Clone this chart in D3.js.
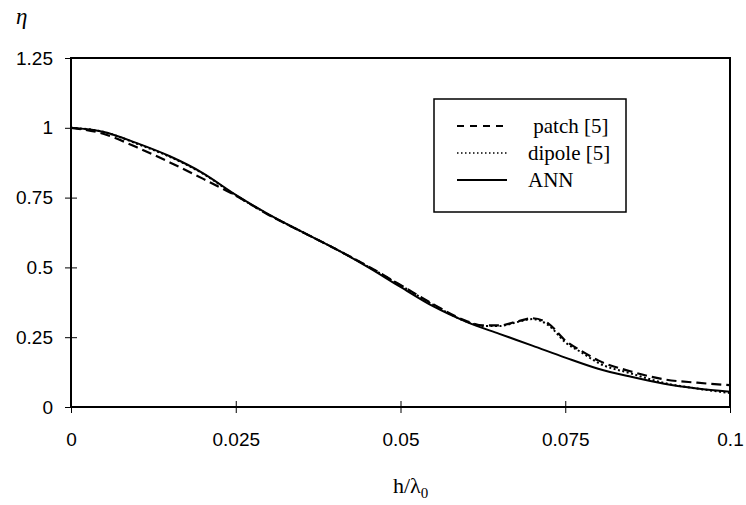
<!DOCTYPE html>
<html>
<head>
<meta charset="utf-8">
<script src="https://cdn.jsdelivr.net/npm/d3@7"></script>
<style>
  body { margin: 0; background: #fff; }
  text { fill: #000; }
  .sans { font-family: "Liberation Sans", Arial, sans-serif; }
  .serif { font-family: "Liberation Serif", "Times New Roman", serif; }
</style>
</head>
<body>
<svg id="chart"></svg>
<script>
// values
const xTicks = [0, 0.025, 0.05, 0.075, 0.1];
const yTicks = [0, 0.25, 0.5, 0.75, 1, 1.25];

const annX = [0, 0.005, 0.01, 0.015, 0.02, 0.025, 0.03, 0.035, 0.04, 0.045, 0.05,
  0.055, 0.06, 0.065, 0.07, 0.075, 0.08, 0.085, 0.09, 0.095, 0.1];
const annY = [1.0, 0.985, 0.945, 0.898, 0.838, 0.76, 0.69, 0.628, 0.568, 0.502, 0.43,
  0.36, 0.305, 0.262, 0.22, 0.177, 0.137, 0.108, 0.083, 0.066, 0.055];

const patchX = [0, 0.005, 0.01, 0.015, 0.02, 0.025, 0.03, 0.035, 0.04, 0.045, 0.05,
  0.055, 0.06, 0.0625, 0.065, 0.0675, 0.07, 0.0725, 0.075, 0.0775, 0.08, 0.085, 0.09, 0.095, 0.1];
const patchY = [1.0, 0.978, 0.93, 0.876, 0.818, 0.757, 0.688, 0.628, 0.568, 0.505, 0.437,
  0.368, 0.308, 0.292, 0.292, 0.305, 0.318, 0.298, 0.238, 0.2, 0.167, 0.127, 0.099, 0.087, 0.078];

const dipoleX = [0, 0.005, 0.01, 0.015, 0.02, 0.025, 0.03, 0.035, 0.04, 0.045, 0.05,
  0.055, 0.06, 0.0625, 0.065, 0.0675, 0.07, 0.0725, 0.075, 0.0775, 0.08, 0.085, 0.09, 0.095, 0.1];
const dipoleY = [1.0, 0.985, 0.943, 0.896, 0.836, 0.758, 0.689, 0.628, 0.568, 0.504, 0.436,
  0.366, 0.306, 0.29, 0.29, 0.303, 0.315, 0.292, 0.232, 0.195, 0.158, 0.12, 0.086, 0.066, 0.05];

const legendLabels = [" patch [5]", "dipole [5]", "ANN"];

const margin = { top: 58, right: 16, bottom: 98, left: 71 },
  width = 746 - margin.left - margin.right,
  height = 505 - margin.top - margin.bottom;

const root = d3.select("#chart").attr("width", 746).attr("height", 505);

const svg = root.append("g")
  .attr("transform", `translate(${margin.left},${margin.top})`);

const x = d3.scaleLinear().domain([0, 0.1]).range([0, width]);
const y = d3.scaleLinear().domain([0, 1.25]).range([height, 0]);

// frame
svg.append("rect")
  .attr("x", 0).attr("y", 0)
  .attr("width", width).attr("height", height)
  .attr("fill", "none").attr("stroke", "#000").attr("stroke-width", 2);

// axes (ticks cross the axis line)
const xAxis = svg.append("g")
  .attr("transform", `translate(0,${height})`)
  .call(d3.axisBottom(x).tickValues(xTicks).tickFormat((d) => d3.format("")(d)).tickSize(6).tickPadding(20));
xAxis.attr("font-family", null).attr("font-size", null);
xAxis.select(".domain").remove();
xAxis.selectAll(".tick line").attr("y1", -6).attr("stroke-width", 1);
xAxis.selectAll("text")
  .attr("class", "sans")
  .style("font-size", "19px")
  .attr("fill", "#000");

const yAxis = svg.append("g")
  .call(d3.axisLeft(y).tickValues(yTicks).tickFormat((d) => d3.format("")(d)).tickSize(6).tickPadding(12));
yAxis.attr("font-family", null).attr("font-size", null);
yAxis.select(".domain").remove();
yAxis.selectAll(".tick line").attr("x1", 6).attr("stroke-width", 1);
yAxis.selectAll("text")
  .attr("class", "sans")
  .style("font-size", "19px")
  .attr("fill", "#000");

// curves
const line = d3.line()
  .x((d) => x(d[0]))
  .y((d) => y(d[1]))
  .curve(d3.curveMonotoneX);

const series = [
  { xs: dipoleX, ys: dipoleY, dash: "2,2.5", w: 2 },
  { xs: patchX, ys: patchY, dash: "10,5", w: 2.2 },
  { xs: annX, ys: annY, dash: null, w: 2 },
];

series.forEach((s) => {
  svg.append("path")
    .datum(s.xs.map((v, i) => [v, s.ys[i]]))
    .attr("d", line)
    .attr("fill", "none")
    .attr("stroke", "#000")
    .attr("stroke-width", s.w)
    .attr("stroke-dasharray", s.dash);
});

// legend
const legend = root.append("g").attr("transform", "translate(434,99)");
legend.append("rect")
  .attr("width", 192).attr("height", 113)
  .attr("fill", "#fff").attr("stroke", "#000").attr("stroke-width", 1.5);

const legendDash = ["7,6", "1.5,2.5", null];
legendLabels.forEach((lab, i) => {
  const ly = 27 + i * 27;
  legend.append("line")
    .attr("x1", 23).attr("x2", 73)
    .attr("y1", ly).attr("y2", ly)
    .attr("stroke", "#000")
    .attr("stroke-width", i === 1 ? 1.5 : 2)
    .attr("stroke-dasharray", legendDash[i]);
  legend.append("text")
    .attr("class", "serif")
    .attr("x", 94).attr("y", ly + 7)
    .style("font-size", "21px")
    .style("white-space", "pre")
    .text(lab);
});

// axis titles
root.append("text")
  .attr("class", "serif")
  .attr("x", 16).attr("y", 24)
  .style("font-style", "italic")
  .style("font-size", "23px")
  .text("η");

const xt = root.append("text")
  .attr("class", "serif")
  .attr("x", 393).attr("y", 493)
  .style("font-size", "22px");
xt.append("tspan").text("h/λ");
xt.append("tspan").attr("dy", 5).style("font-size", "15px").text("0");
</script>
</body>
</html>
